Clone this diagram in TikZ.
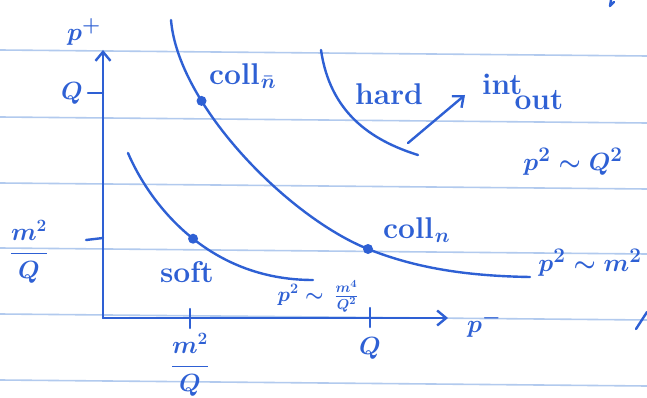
\documentclass[tikz,border=0pt]{standalone}
\usepackage{amsmath}
\usepackage{fontspec}
\usetikzlibrary{arrows.meta,positioning}
\definecolor{ink}{RGB}{46,96,212}
\definecolor{ruled}{RGB}{178,202,238}

\begin{document}
\begin{tikzpicture}[
  x=1pt,y=-1pt,
  pen/.style={draw=ink,line width=2.4pt,line cap=round,line join=round},
  arr/.style={pen,-{Straight Barb[length=9pt,width=15pt,line width=2.4pt]}},
  lbl/.style={text=ink,inner sep=1pt,font=\fontsize{30}{34}\selectfont\bfseries\boldmath},
  frac/.style={text=ink,inner sep=1pt,font=\fontsize{24}{28}\selectfont\bfseries\boldmath},
  small/.style={text=ink,inner sep=1pt,font=\fontsize{21}{24}\selectfont\bfseries\boldmath},
  dot/.style={circle,fill=ink,inner sep=0pt,minimum size=10pt}
]
\useasboundingbox[fill=white] (0,0) rectangle (647,398);
% ruled paper
\foreach \y in {50,117,183,248,314,380}
  \draw[ruled,line width=1.6pt] (0,\y) -- (647,\y+6);

% axes
\coordinate (o) at (103,318);
\coordinate (ytop) at (103,50);
\coordinate (xend) at (448,318);
\draw[arr] (o) -- (ytop);
\draw[arr] (o) -- (xend);
\node[lbl,anchor=south] (pplus) at (84,47) {$p^+$};
\node[lbl,anchor=west] (pminus) at (466,324) {$p^-$};

% ticks
\coordinate (tyq) at (88,93);
\coordinate (tym) at (86,240);
\coordinate (txm) at (190,309);
\coordinate (txq) at (370,308);
\draw[pen] (tyq) -- (103,93);
\draw[pen] (tym) -- (103,238);
\draw[pen] (txm) -- (190,328);
\draw[pen] (txq) -- (370,327);
\node[lbl,left=4pt of tyq] (lyq) {$Q$};
\node[frac] (lym) at (29,252) {$\dfrac{m^2}{Q}$};
\node[frac] (lxm) at (190,365) {$\dfrac{m^2}{Q}$};
\node[lbl,below=28pt of txq] (lxq) {$Q$};

% collinear branch
\coordinate (ctop) at (171,20);
\coordinate (cn) at (368,249);
\coordinate (cend) at (530,277);
\draw[pen] (ctop) .. controls (178,105) and (288,217) .. (cn)
  node[dot,pos=0.3] (dcnb) {};
\draw[pen] (cn) .. controls (418,269) and (470,276) .. (cend);
\node[dot] (dcn) at (cn) {};
\node[lbl,anchor=west] (lcnb) at (208,76) {coll\kern1pt$_{\bar n}$};
\node[lbl,anchor=west] (lcn) at (382,230) {coll\kern1pt$_{n}$};
\node[lbl] (p2m2) at (590,263) {$p^2\sim m^2$};

% soft branch
\coordinate (stop) at (128,153);
\coordinate (send) at (313,280);
\draw[pen] (stop) .. controls (148,200) and (205,280) .. (send)
  node[dot,pos=0.53] (dsft) {};
\node[lbl] (lsft) at (187,272) {soft};
\node[small] (p2m4) at (318,296) {$p^2\sim\,\frac{m^4}{Q^2}$};

% hard region
\coordinate (htop) at (321,50);
\coordinate (hd) at (418,155);
\draw[pen] (htop) .. controls (330,112) and (370,140) .. (hd);
\node[lbl] (lhard) at (389,94) {hard};
\coordinate (arra) at (408,143);
\coordinate (arrb) at (465,95);
\draw[arr] (arra) -- (arrb);
\node[lbl,anchor=west] (intout) at (481,92) {\raisebox{8pt}{int}\kern-8pt\raisebox{-7pt}{out}};
\node[lbl] (p2q2) at (573,162) {$p^2\sim Q^2$};

% stray pen marks
\draw[pen] (611,0) -- (610,6) -- (614,2);
\draw[pen] (636,329) -- (647,312);
\end{tikzpicture}
\end{document}
